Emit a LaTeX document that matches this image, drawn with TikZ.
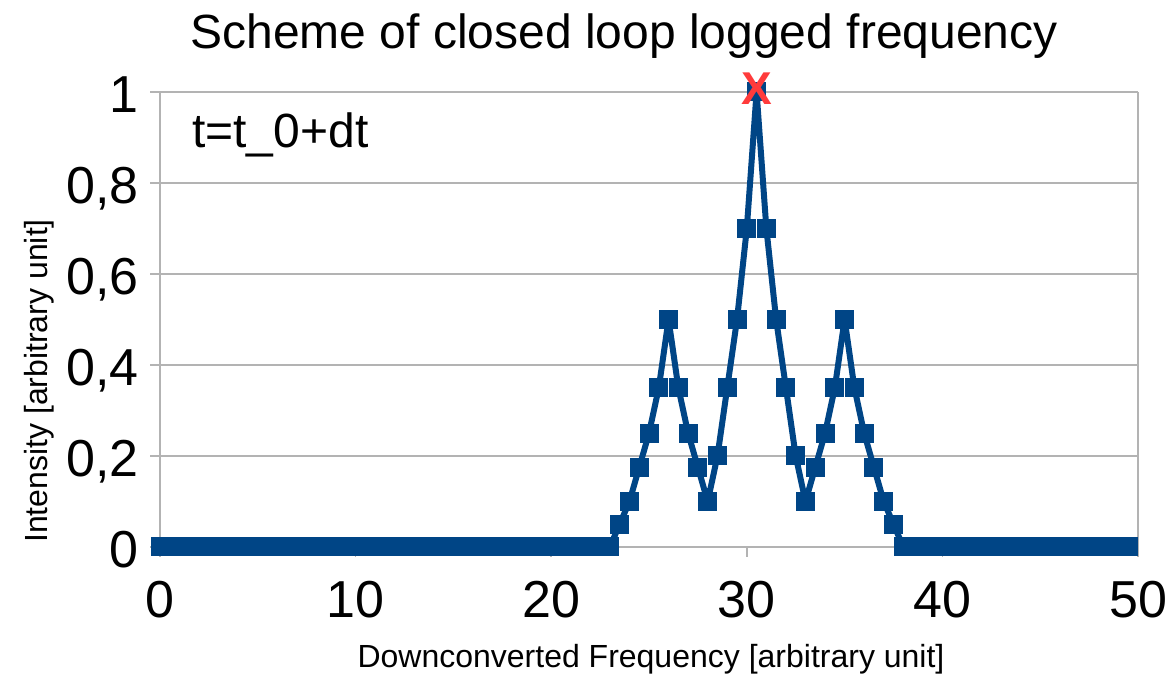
\documentclass[tikz,border=0pt]{standalone}
\usepackage{fontspec}
\setmainfont{Liberation Sans}
\definecolor{dblue}{HTML}{004586}
\definecolor{gridgray}{HTML}{B3B3B3}
\definecolor{xred}{HTML}{FF3B3B}
\tikzset{
  gridline/.style={draw=gridgray, line width=1.5pt},
  ticklab/.style={font=\fontsize{52}{60}\selectfont, inner sep=0pt},
  axislab/.style={font=\fontsize{32}{38}\selectfont, inner sep=0pt},
  dataline/.style={draw=dblue, line width=6pt, line join=round},
  marker/.style={fill=dblue}
}
\begin{document}
\begin{tikzpicture}[x=1pt,y=1pt]
\useasboundingbox (0,0) rectangle (1173,677);
\fill[white] (0,0) rectangle (1173,677);
\node[anchor=base, font=\fontsize{48}{56}\selectfont, inner sep=0pt] (title) at (624,628) {Scheme of closed loop logged frequency};
\begin{scope}[shift={(160,130)}, x=19.56pt, y=455pt]
  % grid and frame
  \foreach \v in {0.2,0.4,0.6,0.8,1}
    \draw[gridline] (0,\v) -- (50,\v);
  \draw[gridline] (0,0) -- (50,0);
  \draw[gridline] (0,0) -- (0,1);
  \draw[gridline] (50,0) -- (50,1);
  % y ticks and labels
  \foreach \v/\l in {0/0,0.2/{0,2},0.4/{0,4},0.6/{0,6},0.8/{0,8},1/1} {
    \draw[gridline] ([xshift=-10pt]0,\v) -- (0,\v);
    \node[ticklab, anchor=base east] (yl\l) at ([xshift=-21pt,yshift=-21pt]0,\v) {\l};
  }
  % x ticks and labels
  \foreach \u in {0,10,20,30,40,50} {
    \draw[gridline] (\u,0) -- ([yshift=-10pt]\u,0);
    \node[ticklab, anchor=base] (xl\u) at ([yshift=-71pt]\u,0) {\u};
  }
  % data line
  \draw[dataline] (0,0) -- (23,0) -- (23.5,0.05) -- (24,0.1) -- (24.5,0.175) -- (25,0.25) -- (25.5,0.35) -- (26,0.5)
    -- (26.5,0.35) -- (27,0.25) -- (27.5,0.175) -- (28,0.1) -- (28.5,0.2) -- (29,0.35) -- (29.5,0.5)
    -- (30,0.7) -- (30.5,1) -- (31,0.7) -- (31.5,0.5) -- (32,0.35) -- (32.5,0.2) -- (33,0.1)
    -- (33.5,0.175) -- (34,0.25) -- (34.5,0.35) -- (35,0.5) -- (35.5,0.35) -- (36,0.25)
    -- (36.5,0.175) -- (37,0.1) -- (37.5,0.05) -- (38,0) -- (49.5,0);
  % markers
  \foreach \px/\py in {23.5/0.05,24/0.1,24.5/0.175,25/0.25,25.5/0.35,26/0.5,
    26.5/0.35,27/0.25,27.5/0.175,28/0.1,28.5/0.2,29/0.35,29.5/0.5,
    30/0.7,30.5/1,31/0.7,31.5/0.5,32/0.35,32.5/0.2,33/0.1,
    33.5/0.175,34/0.25,34.5/0.35,35/0.5,35.5/0.35,36/0.25,
    36.5/0.175,37/0.1,37.5/0.05}
    \fill[marker] ([xshift=-9.5pt,yshift=-9.5pt]\px,\py) rectangle ([xshift=9.5pt,yshift=9.5pt]\px,\py);
  \foreach \px in {0,0.5,...,23}
    \fill[marker] ([xshift=-9.5pt,yshift=-9.5pt]\px,0) rectangle ([xshift=9.5pt,yshift=9.5pt]\px,0);
  \foreach \px in {38,38.5,...,49.5}
    \fill[marker] ([xshift=-9.5pt,yshift=-9.5pt]\px,0) rectangle ([xshift=9.5pt,yshift=9.5pt]\px,0);
\end{scope}
\node[font=\bfseries\fontsize{46}{50}\selectfont, text=xred, inner sep=0pt] (peakx) at (757,588) {X};
\node[anchor=base west, font=\fontsize{48}{56}\selectfont, inner sep=0pt] (tlab) at (192,529) {t=t\_0+dt};
\node[axislab, anchor=base] (xlab) at (651,9) {Downconverted Frequency [arbitrary unit]};
\node[axislab, rotate=90, anchor=base] (ylab) at (47,296) {Intensity [arbitrary unit]};
\end{tikzpicture}
\end{document}
